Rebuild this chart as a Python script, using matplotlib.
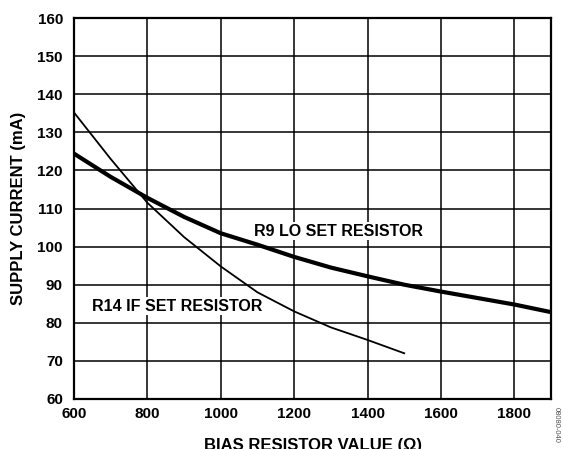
import matplotlib
matplotlib.use("Agg")
import matplotlib.pyplot as plt

plt.rcParams['font.family'] = ['Liberation Sans', 'DejaVu Sans']
plt.rcParams['font.weight'] = 'bold'

r9_x = [600, 700, 800, 900, 1000, 1100, 1200, 1300, 1400, 1500, 1600, 1700, 1800, 1900]
r9_y = [124.4, 118.3, 112.8, 107.8, 103.5, 100.5, 97.3, 94.5, 92.2, 90.0, 88.2, 86.5, 84.8, 82.8]
r14_x = [600, 700, 800, 900, 1000, 1100, 1200, 1300, 1400, 1500]
r14_y = [135.2, 123.0, 111.5, 102.5, 94.8, 88.0, 83.0, 78.8, 75.5, 72.0]

xticks = [600, 800, 1000, 1200, 1400, 1600, 1800]
yticks = [60, 70, 80, 90, 100, 110, 120, 130, 140, 150, 160]

fig = plt.figure(figsize=(5.63, 4.49), dpi=100)
ax = fig.add_axes([74/563, 1 - 399/449, (551-74)/563, (399-18)/449])
ax.plot(r9_x, r9_y, color='black', lw=3.0, zorder=3, solid_joinstyle='round')
ax.plot(r14_x, r14_y, color='black', lw=1.3, zorder=3, solid_joinstyle='round')
ax.set_xlim(600, 1900)
ax.set_ylim(60, 160)
ax.set_xticks(xticks)
ax.set_yticks(yticks)
ax.grid(True, color='black', lw=1.1)
ax.tick_params(length=0, labelsize=11)
ax.tick_params(axis='x', pad=6)
ax.tick_params(axis='y', pad=8)
for lab in ax.get_xticklabels() + ax.get_yticklabels():
    lab.set_fontweight('bold')
for s in ax.spines.values():
    s.set_linewidth(1.6)
ax.set_ylabel('SUPPLY CURRENT (mA)', fontsize=12, fontweight='bold', labelpad=8)
ax.set_xlabel('BIAS RESISTOR VALUE (Ω)', fontsize=12, fontweight='bold', labelpad=12)
ax.text(1090, 104.0, 'R9 LO SET RESISTOR', fontsize=11.5, fontweight='bold', va='center', ha='left',
        bbox=dict(facecolor='white', edgecolor='none', pad=1), zorder=4)
ax.text(649, 84.3, 'R14 IF SET RESISTOR', fontsize=11.5, fontweight='bold', va='center', ha='left',
        bbox=dict(facecolor='white', edgecolor='none', pad=1), zorder=4)
fig.text(556/563, 1 - 425/449, '08080-040', rotation=270, fontsize=5.5, color='#555555',
         ha='center', va='center', fontweight='normal')
fig.savefig('out.png', dpi=100)
